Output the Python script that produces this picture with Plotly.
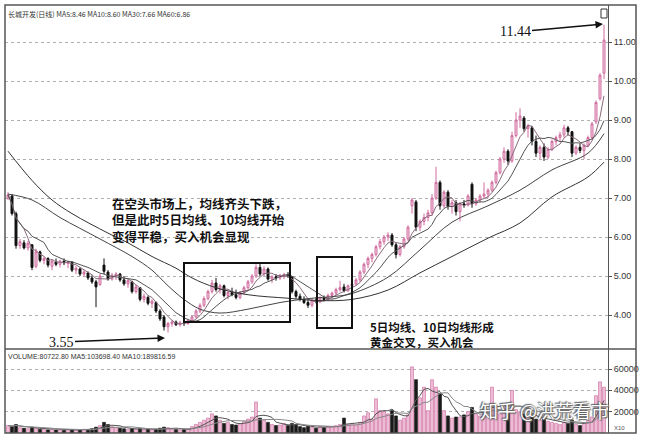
import plotly.graph_objects as go
from plotly.subplots import make_subplots
import pandas as pd

# ---------------- data ----------------
open_ = [7.00, 7.05, 6.60, 5.78, 5.85, 5.72, 5.80, 5.25, 5.62, 5.40,
         5.45, 5.25, 5.36, 5.30, 5.38, 5.32, 5.35, 5.15, 5.18, 5.05,
         5.08, 4.95, 4.85, 4.78, 5.28, 5.10, 4.92, 5.00, 5.05, 4.90,
         4.80, 4.85, 4.60, 4.70, 4.40, 4.45, 4.30, 4.32, 4.10, 3.95,
         3.70, 3.78, 3.82, 3.75, 3.80, 3.78, 3.86, 3.95, 4.10, 4.25,
         4.42, 4.60, 4.82, 4.65, 4.75, 4.50, 4.58, 4.52, 4.45, 4.58,
         4.70, 4.85, 5.00, 5.22, 5.05, 5.18, 4.92, 4.98, 4.95, 5.00,
         5.04, 4.98, 4.60, 4.48, 4.40, 4.32, 4.25, 4.38, 4.34, 4.44,
         4.40, 4.50, 4.56, 4.65, 4.72, 4.62, 4.75, 4.80, 4.90, 5.10,
         5.30, 5.45, 5.55, 5.75, 5.88, 6.00, 6.05, 5.80, 5.55, 5.75,
         5.95, 6.80, 6.90, 6.25, 6.40, 6.50, 6.62, 7.00, 7.40, 6.80,
         7.15, 6.78, 6.88, 6.65, 6.85, 6.82, 7.35, 6.85, 6.95, 7.05,
         7.10, 7.20, 7.40, 7.65, 8.00, 8.20, 7.95, 8.60, 9.00, 9.05,
         8.78, 8.80, 8.45, 8.15, 8.30, 8.05, 8.25, 8.45, 8.55, 8.62,
         8.80, 8.70, 8.15, 8.30, 8.22, 8.35, 8.55, 8.95, 9.55, 10.20]
high = [7.15, 7.10, 6.65, 5.95, 5.92, 5.90, 5.82, 5.70, 5.65, 5.50,
        5.48, 5.42, 5.45, 5.42, 5.45, 5.40, 5.38, 5.25, 5.22, 5.15,
        5.12, 5.02, 4.90, 5.05, 5.45, 5.15, 5.08, 5.10, 5.08, 5.00,
        4.92, 4.88, 4.78, 4.72, 4.55, 4.50, 4.40, 4.35, 4.15, 4.00,
        3.82, 3.88, 3.86, 3.85, 3.88, 3.90, 3.98, 4.15, 4.30, 4.48,
        4.65, 4.90, 4.95, 4.80, 4.78, 4.62, 4.70, 4.65, 4.62, 4.75,
        4.90, 5.05, 5.30, 5.32, 5.25, 5.22, 5.02, 5.05, 5.05, 5.08,
        5.10, 5.00, 4.65, 4.55, 4.48, 4.40, 4.42, 4.45, 4.48, 4.50,
        4.55, 4.60, 4.70, 4.88, 4.80, 4.78, 4.85, 4.95, 5.15, 5.35,
        5.50, 5.60, 5.80, 5.95, 6.05, 6.12, 6.10, 5.85, 5.80, 6.00,
        6.30, 7.00, 6.95, 6.45, 6.60, 6.70, 7.10, 7.80, 7.45, 7.20,
        7.20, 6.95, 6.95, 6.90, 6.95, 7.10, 7.40, 7.00, 7.10, 7.40,
        7.25, 7.45, 7.70, 8.05, 8.30, 8.25, 8.70, 9.20, 9.30, 9.10,
        8.90, 8.85, 8.60, 8.35, 8.40, 8.30, 8.50, 8.60, 8.70, 8.88,
        8.85, 8.72, 8.35, 8.40, 8.40, 8.60, 8.95, 9.50, 10.20, 11.44]
low = [6.95, 6.55, 5.70, 5.70, 5.68, 5.65, 5.15, 5.20, 5.35, 5.30,
       5.22, 5.15, 5.25, 5.22, 5.28, 5.20, 5.10, 5.05, 5.00, 4.98,
       4.90, 4.80, 4.20, 4.75, 5.05, 4.88, 4.88, 4.90, 4.85, 4.75,
       4.70, 4.55, 4.55, 4.35, 4.32, 4.25, 4.18, 4.05, 3.85, 3.60,
       3.55, 3.70, 3.72, 3.70, 3.72, 3.75, 3.82, 3.92, 4.05, 4.20,
       4.38, 4.55, 4.60, 4.55, 4.45, 4.40, 4.48, 4.40, 4.40, 4.52,
       4.65, 4.80, 4.95, 5.00, 5.00, 4.88, 4.82, 4.88, 4.90, 4.92,
       4.95, 4.55, 4.42, 4.35, 4.28, 4.18, 4.20, 4.30, 4.30, 4.35,
       4.36, 4.42, 4.50, 4.60, 4.58, 4.60, 4.68, 4.75, 4.85, 5.05,
       5.20, 5.35, 5.50, 5.68, 5.80, 5.90, 5.75, 5.45, 5.50, 5.70,
       5.90, 6.60, 6.15, 6.15, 6.30, 6.40, 6.55, 6.95, 6.70, 6.75,
       6.70, 6.60, 6.55, 6.40, 6.75, 6.78, 6.75, 6.80, 6.88, 7.00,
       7.00, 7.15, 7.35, 7.60, 7.90, 7.85, 7.90, 8.55, 8.80, 8.70,
       8.55, 8.35, 8.05, 8.00, 7.95, 8.00, 8.20, 8.35, 8.45, 8.55,
       8.60, 8.05, 8.10, 8.15, 8.00, 8.30, 8.50, 8.90, 9.50, 10.05]
close = [7.08, 6.60, 5.78, 5.88, 5.72, 5.84, 5.22, 5.62, 5.40, 5.45,
         5.28, 5.38, 5.30, 5.38, 5.34, 5.36, 5.15, 5.20, 5.05, 5.10,
         4.95, 4.85, 4.72, 5.00, 5.12, 4.92, 5.02, 5.05, 4.90, 4.80,
         4.88, 4.60, 4.72, 4.40, 4.48, 4.30, 4.35, 4.10, 3.90, 3.70,
         3.78, 3.82, 3.75, 3.80, 3.78, 3.86, 3.95, 4.10, 4.25, 4.42,
         4.60, 4.82, 4.65, 4.75, 4.50, 4.58, 4.52, 4.45, 4.58, 4.70,
         4.85, 5.00, 5.22, 5.05, 5.18, 4.92, 4.98, 4.95, 5.02, 5.04,
         5.00, 4.60, 4.48, 4.40, 4.32, 4.25, 4.38, 4.34, 4.44, 4.40,
         4.50, 4.56, 4.65, 4.70, 4.62, 4.75, 4.80, 4.90, 5.10, 5.30,
         5.45, 5.55, 5.75, 5.88, 6.00, 6.05, 5.80, 5.55, 5.75, 5.95,
         6.25, 6.95, 6.25, 6.40, 6.50, 6.62, 7.00, 7.40, 6.80, 7.15,
         6.78, 6.88, 6.65, 6.85, 6.82, 7.05, 6.85, 6.95, 7.05, 7.10,
         7.20, 7.40, 7.65, 8.00, 8.20, 7.95, 8.60, 9.00, 9.10, 8.78,
         8.85, 8.45, 8.15, 8.30, 8.05, 8.25, 8.45, 8.55, 8.62, 8.80,
         8.70, 8.15, 8.30, 8.22, 8.35, 8.55, 8.90, 9.45, 10.15, 11.05]
volume = [7000, 6000, 8000, 5000, 4500, 4000, 5500, 4500, 3500, 3500,
          3000, 3200, 2800, 3000, 2600, 3000, 3200, 2800, 3000, 3500,
          3300, 4000, 5500, 7000, 10000, 8000, 6000, 5000, 4500, 4000,
          3500, 4000, 3500, 4000, 3000, 3500, 3000, 3500, 4500, 5500,
          5000, 4000, 3500, 3000, 3200, 3800, 6000, 8000, 10000, 12000,
          14000, 18000, 16000, 12000, 9000, 10000, 8000, 7500, 9000, 11000,
          13000, 15000, 29000, 14000, 12000, 10000, 8000, 7000, 7500, 9000,
          7000, 9000, 8000, 6000, 5000, 6500, 5500, 4500, 6000, 5000,
          6000, 5500, 7000, 8000, 14000, 8000, 9000, 7500, 10000, 16000,
          19000, 13000, 32000, 21000, 20000, 18000, 21000, 16000, 12000, 14000,
          17000, 62000, 50000, 33000, 43000, 21000, 50000, 43000, 37000, 21000,
          16000, 14000, 15000, 15000, 17000, 20000, 24000, 18000, 16000, 22000,
          20000, 43000, 22000, 18000, 24000, 20000, 40000, 22000, 20000, 18000,
          15000, 16000, 13000, 12000, 14000, 11000, 10000, 9000, 8000, 10000,
          9000, 12000, 8000, 7000, 9000, 12000, 15000, 35000, 48000, 43000]

# long moving averages (at sample bars)
ma30_idx = [0, 6, 13, 23, 31, 36, 40, 44, 48, 53, 60, 68, 75, 82, 86, 95, 103, 111, 120, 128, 136, 145, 149]
ma30_val = [7.10, 6.95, 6.50, 5.95, 5.50, 5.15, 4.75, 4.40, 4.15, 4.05, 4.15, 4.32, 4.42, 4.48, 4.55, 4.97, 5.67, 6.38, 6.80, 7.20, 7.72, 8.15, 8.65]
ma60_idx = [0, 6, 11, 16, 25, 30, 36, 42, 46, 52, 60, 70, 78, 86, 95, 103, 111, 120, 128, 136, 145, 149]
ma60_val = [8.20, 7.45, 6.95, 6.60, 6.10, 5.85, 5.50, 5.20, 4.95, 4.70, 4.52, 4.43, 4.37, 4.40, 4.64, 5.08, 5.50, 5.97, 6.36, 7.03, 7.54, 7.92]

price_ticks = [4, 5, 6, 7, 8, 9, 10, 11]
vol_ticks = [20000, 40000, 60000]

title_text = "长城开发(日线) MA5:8.46 MA10:8.60 MA30:7.66 MA60:6.86"
vol_text = "VOLUME:80722.80 MA5:103698.40 MA10:189816.59"
note1_lines = ["在空头市场上，均线齐头下跌，", "但是此时5日均线、10均线开始", "变得平稳，买入机会显现"]
note2_lines = ["5日均线、10日均线形成", "黄金交叉，买入机会"]
watermark = "知乎 @洪荒看市"

# ---------------- derived ----------------
idx = list(range(len(close)))
s_close = pd.Series(close)
ma5 = s_close.rolling(5, min_periods=1).mean()
ma10 = s_close.rolling(10, min_periods=1).mean()
s_vol = pd.Series(volume)
vma5 = s_vol.rolling(5, min_periods=1).mean()
vma10 = s_vol.rolling(10, min_periods=1).mean()
up = [c >= o for o, c in zip(open_, close)]

W, H = 645, 440
ML, MR, MT, MB = 5, 37, 5, 7
PW, PH = W - ML - MR, H - MT - MB
SPLIT_Y = 349


def px(x):
    return (x - ML) / PW


def py(y):
    return (H - MB - y) / PH


vol_frac = py(SPLIT_Y)

fig = make_subplots(rows=2, cols=1, shared_xaxes=True, vertical_spacing=0,
                    row_heights=[1 - vol_frac, vol_frac])

PINK = "#cf6a9e"
fig.add_trace(go.Candlestick(
    x=idx, open=open_, high=high, low=low, close=close,
    increasing=dict(line=dict(color=PINK, width=1), fillcolor="#f6d8e7"),
    decreasing=dict(line=dict(color="#111111", width=1), fillcolor="#111111"),
    whiskerwidth=0, showlegend=False, hoverinfo="skip"), row=1, col=1)

for y, color, w in [(ma5, "#8a6a7c", 1), (ma10, "#555555", 1)]:
    fig.add_trace(go.Scatter(x=idx, y=y, mode="lines", line=dict(color=color, width=w),
                             showlegend=False, hoverinfo="skip"), row=1, col=1)
fig.add_trace(go.Scatter(x=ma30_idx, y=ma30_val, mode="lines", line=dict(color="#444444", width=1, shape="spline"),
                         showlegend=False, hoverinfo="skip"), row=1, col=1)
fig.add_trace(go.Scatter(x=ma60_idx, y=ma60_val, mode="lines", line=dict(color="#333333", width=1, shape="spline"),
                         showlegend=False, hoverinfo="skip"), row=1, col=1)

fig.add_trace(go.Bar(
    x=idx, y=volume,
    marker=dict(color=["#ecbcd5" if u else "#1a1a1a" for u in up],
                line=dict(color=[PINK if u else "#1a1a1a" for u in up], width=0.6)),
    width=0.75, showlegend=False, hoverinfo="skip"), row=2, col=1)
fig.add_trace(go.Scatter(x=idx, y=vma5, mode="lines", line=dict(color="#555555", width=1),
                         showlegend=False, hoverinfo="skip"), row=2, col=1)
fig.add_trace(go.Scatter(x=idx, y=vma10, mode="lines", line=dict(color="#888888", width=1),
                         showlegend=False, hoverinfo="skip"), row=2, col=1)

# axes
xr = [(ML - 8) / 4, (ML + PW - 8) / 4]
fig.update_xaxes(range=xr, showticklabels=False, showgrid=False, zeroline=False,
                 rangeslider_visible=False, ticks="")
p_lo = 4 - (SPLIT_Y - 315) / 39
p_hi = 11 + (42 - MT) / 39
fig.update_yaxes(row=1, col=1, range=[p_lo, p_hi], side="right", tickvals=price_ticks,
                 ticktext=[f"{v:.2f}" for v in price_ticks], showgrid=True, gridcolor="#b0b0b0",
                 griddash="dot", gridwidth=1, showline=True, linecolor="#555555", linewidth=1,
                 ticks="outside", ticklen=3, tickcolor="#555555", zeroline=False,
                 tickfont=dict(size=9, color="#333333", family="Liberation Sans Narrow, Liberation Sans"))
v_hi = (H - MB - SPLIT_Y) / (64 / 60000)
fig.update_yaxes(row=2, col=1, range=[0, v_hi], side="right", tickvals=vol_ticks,
                 ticktext=[str(v) for v in vol_ticks], showgrid=True, gridcolor="#b0b0b0",
                 griddash="dot", gridwidth=1, showline=True, linecolor="#555555", linewidth=1,
                 ticks="outside", ticklen=3, tickcolor="#555555", zeroline=False,
                 tickfont=dict(size=9, color="#333333", family="Liberation Sans Narrow, Liberation Sans"))

shapes = [
    # outer frame
    dict(type="rect", xref="paper", yref="paper", x0=0, x1=px(636), y0=0, y1=1,
         line=dict(color="#555555", width=1.5)),
    # panel separator
    dict(type="line", xref="paper", yref="paper", x0=0, x1=px(636), y0=vol_frac, y1=vol_frac,
         line=dict(color="#555555", width=1.5)),
    # boxes
    dict(type="rect", xref="paper", yref="paper", x0=px(184), x1=px(290), y0=py(322), y1=py(263),
         line=dict(color="#111111", width=2)),
    dict(type="rect", xref="paper", yref="paper", x0=px(317), x1=px(352), y0=py(328), y1=py(257),
         line=dict(color="#111111", width=2)),
    # small marker icon
    dict(type="rect", xref="paper", yref="paper", x0=px(601), x1=px(607), y0=py(18), y1=py(9),
         line=dict(color="#333333", width=1)),
]

CJK = "Noto Sans CJK SC"
TXT = "#111111"
ann = [
    dict(x=px(6), y=py(14), text=title_text, xanchor="left", yanchor="middle",
         font=dict(size=7, color="#333333", family=CJK)),
    dict(x=px(6), y=py(356), text=vol_text, xanchor="left", yanchor="middle",
         font=dict(size=7, color="#333333", family="Liberation Sans Narrow, Liberation Sans")),
    dict(x=px(110), y=py(220), text="<br>".join(note1_lines), xanchor="left", yanchor="middle",
         align="left", font=dict(size=12.5, color=TXT, family=CJK, weight="bold")),
    dict(x=px(368), y=py(334), text="<br>".join(note2_lines), xanchor="left", yanchor="middle",
         align="left", font=dict(size=11.5, color=TXT, family=CJK, weight="bold")),
    dict(x=px(603), y=py(24), text="11.44", showarrow=True, ax=-88, ay=8,
         arrowhead=2, arrowsize=1, arrowwidth=1.5, arrowcolor="#111111",
         font=dict(size=14, color=TXT, family="Liberation Serif")),
    dict(x=px(165), y=py(338), text="3.55", showarrow=True, ax=-104, ay=4,
         arrowhead=2, arrowsize=1, arrowwidth=1.5, arrowcolor="#111111",
         font=dict(size=14, color=TXT, family="Liberation Serif")),
    dict(x=px(612), y=py(428), text="X10", xanchor="left", yanchor="middle",
         font=dict(size=6, color="#555555", family="Liberation Sans")),
    dict(x=px(544), y=py(410), text=watermark, xanchor="center", yanchor="middle",
         font=dict(size=18, color="white", family=CJK,
                   shadow="0 0 2px #555, 1px 1px 1px #666, -1px -1px 1px #666")),
]
for a in ann:
    a.setdefault("showarrow", False)
    a["xref"] = "paper"
    a["yref"] = "paper"

fig.update_layout(width=W, height=H, margin=dict(l=ML, r=MR, t=MT, b=MB),
                  paper_bgcolor="white", plot_bgcolor="white", shapes=shapes,
                  annotations=ann, bargap=0.2, showlegend=False,
                  xaxis_rangeslider_visible=False)

fig.write_html("out.html")
